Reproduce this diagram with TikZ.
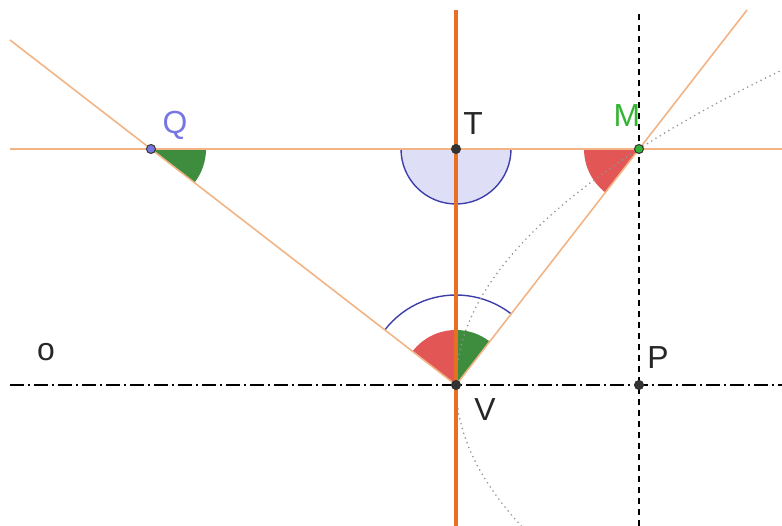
\documentclass[tikz,border=0pt]{standalone}
\usepackage{fontspec}
\setmainfont{Liberation Sans}
\usetikzlibrary{calc}
\definecolor{peach}{RGB}{242,180,132}
\definecolor{axisorange}{RGB}{232,112,36}
\definecolor{angred}{RGB}{226,86,86}
\definecolor{anggreen}{RGB}{62,140,62}
\definecolor{angblue}{RGB}{62,62,170}
\definecolor{blueshade}{RGB}{222,222,246}
\definecolor{qblue}{RGB}{118,118,226}
\definecolor{mgreen}{RGB}{52,180,52}
\tikzset{
  pt/.style={circle,draw=black!80,fill=#1,inner sep=0pt,minimum size=9bp,line width=1bp},
  lbl/.style={font=\fontsize{32}{35}\selectfont,text=black!85},
  ray/.style={peach,line width=1.6bp},
  dashdot/.style={line width=1.4bp,dash pattern=on 14bp off 4bp on 2bp off 4bp},
}
\begin{document}
\begin{tikzpicture}[x=1bp,y=1bp,declare function={para(\t)=456+(0.05732*\t)^2;}]
\useasboundingbox (0,0) rectangle (782,526);
\coordinate (V) at (456,141);
\coordinate (T) at (456,377);
\coordinate (M) at (639,377);
\coordinate (P) at (639,141);
\coordinate (Q) at (151,377);
\coordinate (hl) at (10,377);
\coordinate (hr) at (782,377);
\coordinate (ol) at (10,141);
\coordinate (or) at (782,141);
\coordinate (vtop) at (456,516);
\coordinate (vbot) at (456,0);
\coordinate (dtop) at (639,516);
\coordinate (dbot) at (639,0);
\coordinate (qend) at (10,486);
\coordinate (mend) at (747,516);
% angles
\fill[blueshade] (T) -- ++(180:55) arc[start angle=180,end angle=360,radius=55] -- cycle;
\draw[angblue,line width=1.4bp] ($(T)+(180:55)$) arc[start angle=180,end angle=360,radius=55];
\fill[anggreen] (Q) -- ++(0:55) arc[start angle=0,end angle=-37.7,radius=55] -- cycle;
\fill[angred] (M) -- ++(180:55) arc[start angle=180,end angle=232.2,radius=55] -- cycle;
\fill[angred] (V) -- ++(90:55) arc[start angle=90,end angle=142.3,radius=55] -- cycle;
\fill[anggreen] (V) -- ++(52.2:55) arc[start angle=52.2,end angle=90,radius=55] -- cycle;
\draw[angblue,line width=1.4bp] ($(V)+(52.2:90)$) arc[start angle=52.2,end angle=142.3,radius=90];
% lines
\draw[dashdot] (ol) -- (or);
\draw[line width=1.3bp,dash pattern=on 6bp off 5bp] (dbot) -- (dtop);
\draw[gray!85,line width=1.8bp,line cap=round,dash pattern=on 0bp off 5bp,domain=-141:315,samples=120,variable=\t] plot ({para(\t)},{141+\t});
\draw[ray] (hl) -- (hr);
\draw[ray] (V) -- (qend);
\draw[ray] (V) -- (mend);
\draw[axisorange,line width=3.5bp] (vbot) -- (vtop);
% points
\node[pt=black!80] (Vp) at (V) {};
\node[pt=black!80] (Tp) at (T) {};
\node[pt=black!80] (Pp) at (P) {};
\node[pt=qblue] (Qp) at (Q) {};
\node[pt=mgreen] (Mp) at (M) {};
\node[lbl,text=qblue] (Ql) at (175,401) {Q};
\node[lbl] (Tl) at (473,402) {T};
\node[lbl,text=mgreen] (Ml) at (627,410) {M};
\node[lbl] (Vl) at (485,116) {V};
\node[lbl] (Pl) at (658,168) {P};
\node[lbl] (olbl) at (46,174) {o};
\end{tikzpicture}
\end{document}
